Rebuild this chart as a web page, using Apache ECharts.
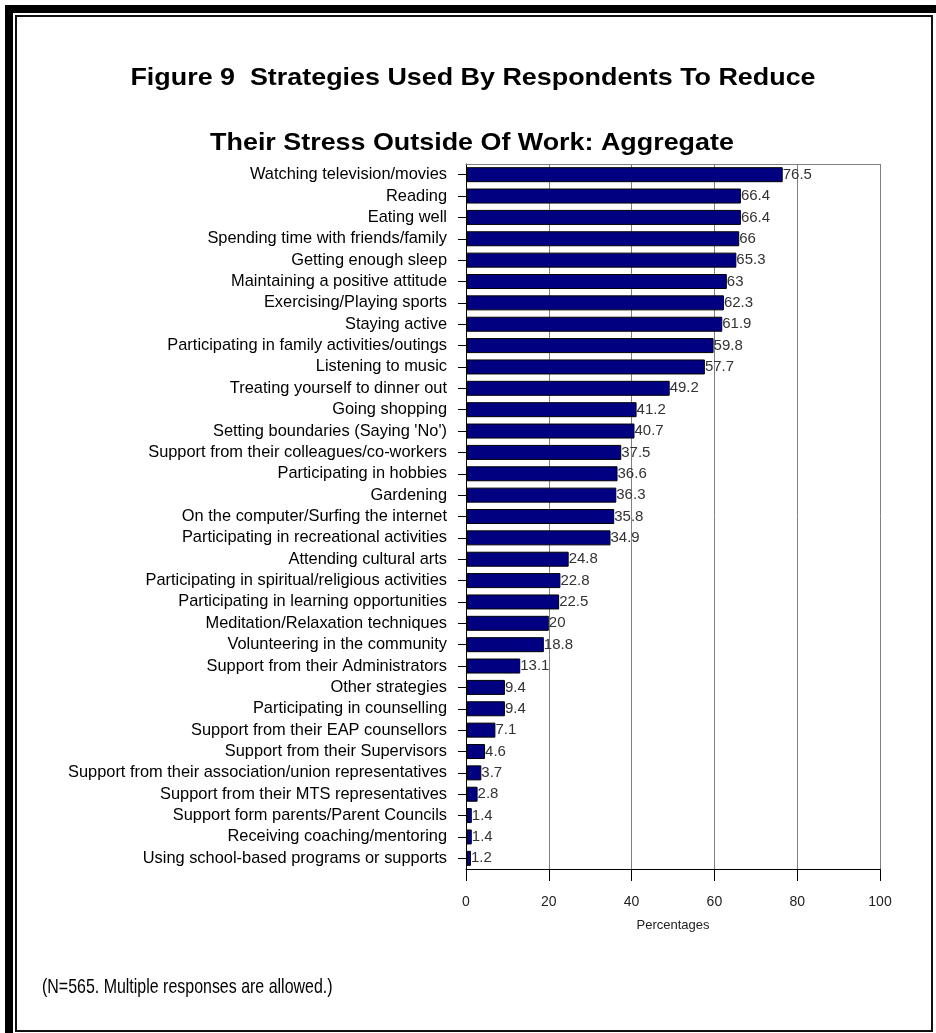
<!DOCTYPE html>
<html>
<head>
<meta charset="utf-8">
<script src="https://cdn.jsdelivr.net/npm/echarts@6/dist/echarts.min.js"></script>
<style>
  html, body { margin: 0; padding: 0; background: #ffffff; }
  #chart { width: 936px; height: 1033px; }
</style>
</head>
<body>
<div id="chart"></div>
<script>
// Strategies, listed top to bottom as they appear on the chart
const categories = [
  'Watching television/movies',
  'Reading',
  'Eating well',
  'Spending time with friends/family',
  'Getting enough sleep',
  'Maintaining a positive attitude',
  'Exercising/Playing sports',
  'Staying active',
  'Participating in family activities/outings',
  'Listening to music',
  'Treating yourself to dinner out',
  'Going shopping',
  "Setting boundaries (Saying 'No')",
  'Support from their colleagues/co-workers',
  'Participating in hobbies',
  'Gardening',
  'On the computer/Surfing the internet',
  'Participating in recreational activities',
  'Attending cultural arts',
  'Participating in spiritual/religious activities',
  'Participating in learning opportunities',
  'Meditation/Relaxation techniques',
  'Volunteering in the community',
  'Support from their Administrators',
  'Other strategies',
  'Participating in counselling',
  'Support from their EAP counsellors',
  'Support from their Supervisors',
  'Support from their association/union representatives',
  'Support from their MTS representatives',
  'Support form parents/Parent Councils',
  'Receiving coaching/mentoring',
  'Using school-based programs or supports'
];

// Percentage of respondents using each strategy
const percentages = [
  76.5, 66.4, 66.4, 66, 65.3, 63, 62.3, 61.9, 59.8, 57.7,
  49.2, 41.2, 40.7, 37.5, 36.6, 36.3, 35.8, 34.9, 24.8, 22.8,
  22.5, 20, 18.8, 13.1, 9.4, 9.4, 7.1, 4.6, 3.7, 2.8,
  1.4, 1.4, 1.2
];

// Percent scale ticks
const xTicks = { min: 0, max: 100, interval: 20 };

const titleLines = [
  'Figure 9  Strategies Used By Respondents To Reduce',
  'Their Stress Outside Of Work: Aggregate'
];
const footnote = '(N=565. Multiple responses are allowed.)';
const axisName = 'Percentages';

const SANS = "'Liberation Sans', Arial, sans-serif";

const chart = echarts.init(document.getElementById('chart'), null, { renderer: 'canvas' });

chart.setOption({
  backgroundColor: '#ffffff',
  animation: false,
  grid: { left: 466, right: 56, top: 164, bottom: 164, containLabel: false },
  xAxis: [
    {
      type: 'value',
      position: 'bottom',
      min: xTicks.min,
      max: xTicks.max,
      interval: xTicks.interval,
      name: axisName,
      nameLocation: 'middle',
      nameGap: 50,
      nameTextStyle: { fontFamily: SANS, fontSize: 13, color: '#222' },
      axisLine: { show: true, lineStyle: { color: '#000', width: 1 } },
      axisTick: { show: true, length: 12, lineStyle: { color: '#000' } },
      axisLabel: { margin: 26, fontFamily: SANS, fontSize: 14, color: '#222' },
      splitLine: { show: true, lineStyle: { color: '#808080', width: 1 } }
    },
    {
      // plot frame along the top edge
      type: 'value',
      position: 'top',
      min: xTicks.min,
      max: xTicks.max,
      interval: xTicks.interval,
      axisLine: { show: true, lineStyle: { color: '#808080', width: 1 } },
      axisTick: { show: false },
      axisLabel: { show: false },
      splitLine: { show: false }
    }
  ],
  yAxis: {
    type: 'category',
    data: categories,
    inverse: true,
    axisLine: { show: true, lineStyle: { color: '#000', width: 1 } },
    axisTick: { show: true, alignWithLabel: true, length: 8, lineStyle: { color: '#000' } },
    axisLabel: {
      margin: 19,
      fontFamily: SANS,
      fontSize: 16.4,
      color: '#000',
      interval: 0
    },
    splitLine: { show: false }
  },
  series: [
    {
      type: 'bar',
      xAxisIndex: 0,
      data: percentages,
      barWidth: 15,
      itemStyle: { color: '#000080', borderColor: '#000000', borderWidth: 1 },
      label: {
        show: true,
        position: 'right',
        distance: 0,
        fontFamily: SANS,
        fontSize: 15,
        color: '#333'
      }
    }
  ],
  graphic: [
    // heavy frame on the top and left edges
    { type: 'rect', shape: { x: 5, y: 5, width: 931, height: 8 }, style: { fill: '#000' }, silent: true },
    { type: 'rect', shape: { x: 5, y: 5, width: 8, height: 1028 }, style: { fill: '#000' }, silent: true },
    // inner border
    { type: 'rect', shape: { x: 16, y: 16, width: 916, height: 1015 }, style: { fill: 'none', stroke: '#111', lineWidth: 2 }, silent: true },
    // title lines
    {
      type: 'text', x: 473, y: 78, scaleX: 1.12,
      style: { text: titleLines[0], font: 'bold 24px ' + SANS, fill: '#000', textAlign: 'center', textVerticalAlign: 'middle' }
    },
    {
      type: 'text', x: 472, y: 143, scaleX: 1.12,
      style: { text: titleLines[1], font: 'bold 24px ' + SANS, fill: '#000', textAlign: 'center', textVerticalAlign: 'middle' }
    },
    // footnote
    {
      type: 'text', x: 42, y: 987, scaleX: 0.76,
      style: { text: footnote, font: '21px ' + SANS, fill: '#000', textAlign: 'left', textVerticalAlign: 'middle' }
    }
  ]
});
</script>
</body>
</html>
